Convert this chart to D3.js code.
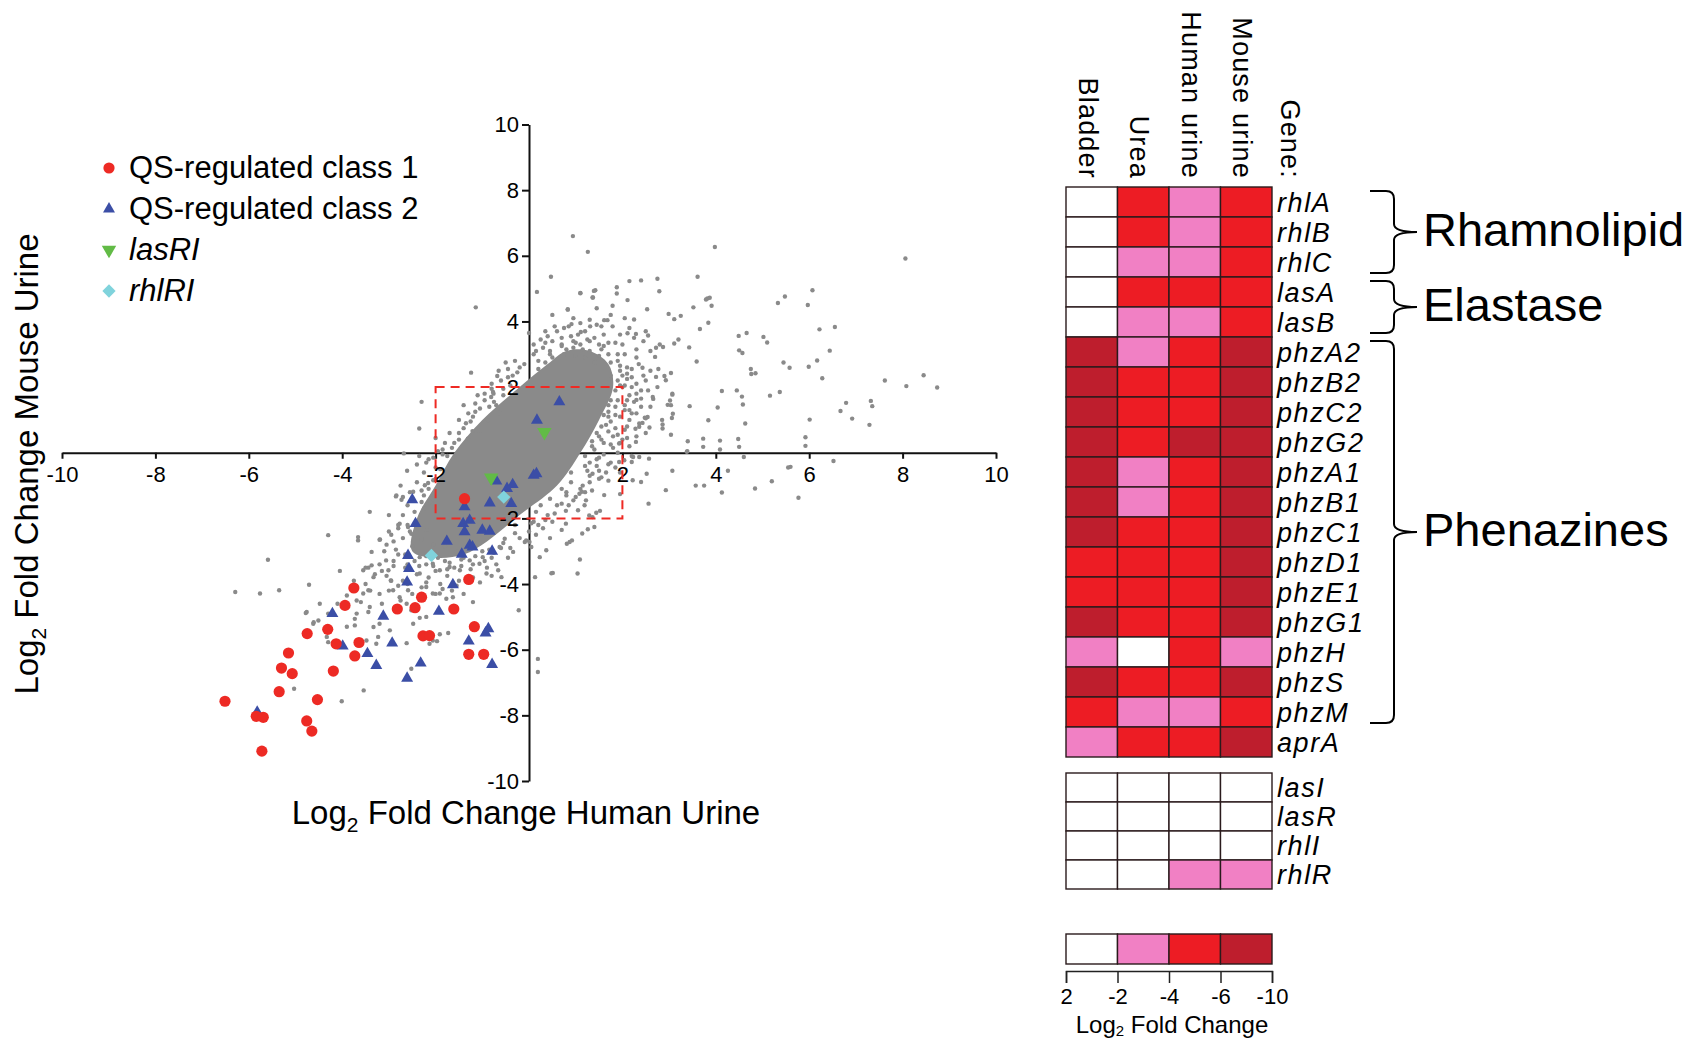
<!DOCTYPE html>
<html>
<head>
<meta charset="utf-8">
<script src="https://cdn.jsdelivr.net/npm/d3@7"></script>
<style>
  body { margin: 0; background: #fff; }
  svg { font-family: "Liberation Sans", Arial, Helvetica, sans-serif; }
</style>
</head>
<body>
<div id="chart"></div>
<script>
// ---- scatter data (log2 fold change: [human urine, mouse urine]) ----
const class1 = [
  [-1.38, -1.40], [-1.29, -3.86], [-3.75, -4.12], [-2.30, -4.40], [-3.94, -4.65],
  [-2.82, -4.76], [-2.44, -4.72], [-1.61, -4.76], [-4.31, -5.38], [-4.75, -5.51],
  [-1.17, -5.30], [-4.13, -5.82], [-3.64, -5.78], [-2.27, -5.58], [-2.13, -5.57],
  [-3.73, -6.19], [-1.29, -6.14], [-0.97, -6.14], [-5.15, -6.10], [-5.30, -6.56],
  [-5.07, -6.73], [-4.19, -6.65], [-5.35, -7.28], [-4.53, -7.52], [-6.51, -7.57],
  [-5.84, -8.03], [-5.69, -8.06], [-4.76, -8.17], [-4.65, -8.48], [-5.72, -9.09]
];
const class2 = [
  [-2.50, -1.43], [-2.43, -2.16], [-2.59, -3.13], [-2.57, -3.53], [-2.61, -3.94],
  [-1.76, -2.70], [-1.44, -3.09], [-1.27, -2.82], [-1.21, -2.87], [-0.79, -3.00],
  [-1.63, -4.02], [-1.93, -4.83], [-3.12, -4.98], [-4.21, -4.90], [-3.99, -5.89],
  [-3.46, -6.12], [-3.27, -6.48], [-2.93, -5.80], [-2.61, -6.87], [-2.32, -6.41],
  [-1.29, -5.74], [-0.93, -5.49], [-0.87, -5.36], [-0.79, -6.45], [-1.41, -2.16],
  [-1.00, -2.36], [-0.84, -2.39], [-1.38, -2.41], [-1.27, -2.06], [-5.82, -7.90],
  [0.65, 1.55], [0.17, 0.99], [0.10, -0.69], [0.16, -0.64], [-0.70, -0.86],
  [-0.47, -1.09], [-0.35, -0.97], [-0.84, -1.53], [-0.38, -1.55], [-1.38, -1.65]
];
const lasRI = [[0.33, 0.63], [-0.81, -0.76]];
const rhlRI = [[-0.54, -1.35], [-2.09, -3.13]];

// solid centre of the gene cloud, traced around its edge
const denseCore = [
  [-2.5, -3.0], [-2.0, -3.2], [-1.4, -3.1], [-0.9, -2.7], [-0.2, -1.9], [0.6, -1.0],
  [1.1, 0.0], [1.5, 1.0], [1.8, 2.0], [1.7, 2.7], [1.3, 3.1], [0.8, 3.1],
  [0.4, 2.7], [-0.2, 2.0], [-1.0, 1.0], [-1.6, 0.0], [-2.0, -1.0], [-2.4, -2.0]
];

// all other genes outside the solid centre
const otherGenes = [
  [0.94, 6.60], [1.26, 6.12], [3.98, 6.27], [8.06, 5.92], [2.15, 5.23], [2.40, 5.25],
  [2.75, 5.30], [3.61, 5.36], [1.88, 5.04], [1.42, 4.95], [1.36, 4.73], [1.10, 4.86],
  [2.79, 4.92], [6.07, 4.95], [5.48, 4.76], [5.33, 4.56], [5.97, 4.50], [3.82, 4.70],
  [3.87, 4.72], [3.91, 4.48], [3.52, 4.43], [2.53, 4.37], [2.11, 4.65], [1.79, 4.48],
  [0.83, 4.37], [2.99, 4.23], [3.11, 4.07], [3.25, 4.17], [3.66, 3.77], [3.84, 3.96],
  [6.55, 3.83], [6.22, 3.76], [4.66, 3.65], [4.49, 3.56], [5.02, 3.53], [5.10, 3.36],
  [2.55, 3.57], [2.29, 3.62], [2.11, 3.64], [3.43, 3.21], [3.11, 3.33], [3.20, 3.45],
  [2.87, 3.22], [2.72, 3.20], [4.50, 3.12], [4.57, 3.04], [6.44, 3.11], [6.17, 2.81],
  [3.59, 2.78], [5.45, 2.75], [5.58, 2.59], [5.99, 2.62], [4.75, 2.55], [4.85, 2.42],
  [4.76, 2.40], [6.28, 2.27], [7.62, 2.20], [8.45, 2.36], [8.08, 2.03], [8.74, 1.99],
  [2.70, 2.92], [2.77, 2.55], [3.04, 2.43], [2.90, 2.34], [3.07, 1.77], [3.02, 1.59],
  [2.97, 1.46], [4.13, 1.88], [4.45, 1.90], [4.56, 1.71], [4.58, 1.47], [5.16, 1.74],
  [5.37, 1.85], [2.30, 1.61], [2.66, 1.64], [4.04, 1.38], [3.44, 1.42], [3.84, 0.99],
  [4.63, 0.89], [6.79, 1.52], [6.67, 1.27], [6.92, 1.04], [7.32, 1.58], [7.35, 1.42],
  [7.29, 0.85], [6.01, 1.01], [3.06, 1.06], [2.85, 1.00], [2.86, 0.86], [2.86, 0.74],
  [3.04, 0.55], [2.58, 0.77], [2.48, 1.07], [2.28, 0.73], [3.73, 0.43], [4.09, 0.37],
  [4.48, 0.42], [5.92, 0.47], [3.39, 0.05], [3.08, 1.19], [3.40, 0.35], [2.15, 1.30],
  [2.54, 1.09], [2.36, 0.89], [2.10, 2.41], [2.25, 4.06], [3.79, 4.67],
  [-1.14, 4.43], [0.47, 5.36], [0.17, 4.90], [1.10, 4.87], [1.39, 4.93], [1.37, 4.73],
  [0.83, 4.36], [0.91, 3.92], [1.11, 3.68], [1.31, 3.85], [1.61, 4.04], [1.68, 4.04],
  [1.79, 3.85], [1.88, 4.85],
  [-2.30, 1.55], [-2.35, 0.74], [-2.68, -0.02], [-1.24, 2.44], [-0.68, 2.34],
  [-0.77, 1.85], [-0.81, 1.70], [-1.31, 0.43], [-1.21, 0.66], [-1.06, 0.67],
  [-0.88, 0.99], [-0.63, 1.21], [-0.76, 1.80],
  [-2.40, -0.36], [-2.61, -0.55], [-2.85, -1.33], [-2.73, -1.43], [-2.48, -1.19],
  [-3.41, -1.80], [-2.23, -0.99], [-2.16, -0.92], [-2.05, -0.84],
  [3.38, 0.03], [3.73, 0.18], [4.09, 0.10], [4.50, 0.18], [5.92, 0.21], [4.60, -0.13],
  [6.52, -0.25], [3.07, -0.55], [4.26, -0.55], [5.55, -0.45], [5.60, -0.43],
  [3.57, -1.00], [3.75, -1.00], [4.13, -1.21], [4.84, -1.09], [5.20, -0.87],
  [5.77, -1.37], [2.56, -1.55], [2.40, -0.89], [2.52, -0.64], [2.57, -0.18],
  [2.23, -0.13], [2.20, -0.28], [2.04, -0.23], [1.61, -1.29], [1.95, -1.26],
  [1.52, -1.77], [1.44, -1.83], [1.29, -1.91], [1.19, -1.60], [1.40, -2.26],
  [1.26, -2.33], [1.14, -2.46], [0.92, -2.67], [0.81, -2.77], [1.09, -3.25],
  [1.04, -3.68], [0.79, -1.77], [1.13, -1.19],
  [0.87, -2.72], [0.51, -3.66], [-0.06, -2.67], [2.93, -1.14], [3.07, 1.80],
  [3.04, 1.45], [2.65, 1.70], [2.72, 2.31], [2.93, 2.21], [2.43, 2.59], [2.36, 0.79],
  [2.43, 0.91], [2.29, 0.33], [1.93, 0.28], [2.22, -0.84], [1.93, -0.28], [2.36, -0.13],
  [1.36, -0.64], [1.50, -0.79], [1.08, -1.25], [1.22, -1.45], [1.36, -1.96],
  [0.79, -2.16], [0.37, -2.97], [0.23, -3.18], [-0.09, -2.72],
  [-6.29, -4.24], [-5.76, -4.29], [-5.35, -4.19], [-5.59, -3.26], [-4.71, -4.02],
  [-4.30, -2.51], [-4.05, -3.60], [-3.66, -2.57], [-3.66, -2.67], [-3.20, -2.65],
  [-3.55, -3.58], [-3.44, -3.50], [-3.37, -3.43], [-3.33, -3.79], [-3.37, -3.02],
  [-3.06, -3.28], [-3.01, -3.58], [-2.96, -3.89], [-2.91, -4.19], [-2.77, -4.40],
  [-2.62, -4.60], [-2.59, -4.19], [-3.69, -4.50], [-3.69, -4.90], [-3.55, -4.29],
  [-3.44, -4.19], [-3.41, -4.70], [-3.44, -4.85], [-3.20, -5.21], [-3.33, -5.31],
  [-3.23, -5.61], [-3.48, -5.72], [-3.27, -5.82], [-3.73, -5.06], [-3.73, -5.26],
  [-4.76, -4.85], [-4.62, -5.21], [-4.51, -5.11], [-4.33, -5.61], [-4.30, -5.77],
  [-5.03, -7.19], [-4.01, -7.57], [-3.54, -7.24], [-2.62, -5.80], [-2.52, -6.58],
  [-2.13, -5.82], [-2.06, -5.72], [-1.97, -5.74], [-1.73, -5.49], [-1.91, -5.53],
  [-2.48, -5.21], [-2.52, -4.80], [-2.34, -5.03], [-2.20, -5.00], [-2.98, -5.41],
  [-2.84, -1.30], [-2.70, -1.35], [-2.77, -2.16], [-2.59, -2.26], [-2.52, -2.47],
  [-2.20, -4.09], [-2.06, -4.29], [-1.91, -4.29], [-1.77, -4.45], [-1.63, -4.40],
  [-1.20, -4.55], [-2.34, -3.18], [-2.06, -3.38], [-1.91, -3.58], [-2.34, -3.68],
  [-1.70, -3.48], [-1.48, -3.58], [-1.27, -3.28], [-1.06, -3.38], [-0.91, -3.68],
  [-0.99, -3.18], [-0.63, -2.87], [-0.52, -2.62], [-0.34, -3.02], [-0.66, -3.58],
  [-0.59, -3.79], [-0.22, -4.80], [0.01, -2.72], [0.05, -2.87], [0.19, -6.28],
  [0.19, -6.68], [0.13, -3.79], [0.48, -3.67], [-3.19, -2.64], [-4.48, -4.60],
  [-4.78, -4.88], [-4.61, -5.16],
  [-1.75, -0.10], [-1.90, -0.50], [-2.00, -0.80], [-2.15, -1.10], [-2.30, -1.50],
  [-2.45, -1.80], [-2.60, -2.20], [-2.20, -0.30], [-1.85, 0.10], [-2.05, -0.15],
  [-1.60, 0.30], [-1.50, 0.60], [-1.35, 0.90], [-1.20, 1.10], [-1.05, 1.35],
  [-0.95, 1.60], [-0.80, 1.95], [-0.60, 2.20], [-0.45, 2.55], [-0.30, 2.80],
  [-0.55, 1.75], [-0.40, 2.05], [-0.70, 1.45],
  [0.10, 3.00], [0.30, 3.20], [0.50, 3.40], [0.70, 3.30], [0.90, 3.55], [1.10, 3.30],
  [1.30, 3.10], [1.50, 3.30], [1.70, 3.00], [1.90, 2.80], [2.10, 2.60], [2.20, 2.30],
  [0.60, 3.70], [1.20, 3.70], [1.60, 3.60], [0.40, 3.55], [0.85, 3.85], [1.45, 3.90],
  [2.00, 3.30], [2.30, 2.90], [0.95, 3.20], [1.25, 3.45], [1.55, 3.15],
  [1.85, 3.35], [2.05, 3.00], [2.35, 2.70], [2.50, 2.20], [2.60, 2.50], [2.20, 2.00],
  [2.40, 1.90], [1.95, 2.50], [1.75, 2.75], [0.35, 3.35], [0.15, 3.10], [-0.10, 2.70],
  [-0.25, 2.45],
  [2.00, 2.00], [2.10, 1.60], [2.20, 1.20], [2.10, 0.80], [2.00, 0.40], [1.90, 0.00],
  [1.75, -0.30], [1.50, -0.55], [2.30, 1.80], [2.40, 1.40], [2.50, 0.60], [2.20, -0.10],
  [1.95, -0.60], [1.70, -0.85], [1.30, -0.90], [1.10, -1.10], [0.80, -1.30], [0.60, -1.60],
  [0.40, -1.90], [0.20, -2.20], [0.00, -2.40], [-0.20, -2.60], [-0.40, -2.90],
  [1.80, 0.50], [1.70, 1.10], [1.85, 1.40], [1.60, 0.30], [1.45, -0.20], [1.20, -0.40],
  [-0.60, -2.90], [-0.80, -3.20], [-1.00, -3.00], [-1.20, -3.40], [-1.40, -3.20],
  [-1.60, -3.50], [-1.80, -3.30], [-2.00, -3.60], [-2.20, -3.40], [-2.40, -3.70],
  [-2.60, -3.40], [-2.80, -3.10], [-2.90, -2.70], [-3.00, -2.40], [-2.80, -2.30],
  [-3.10, -3.00], [-3.20, -3.40], [-2.70, -3.90], [-2.30, -4.10], [-1.90, -4.00],
  [-1.50, -3.90], [-1.20, -3.80], [-0.90, -3.50], [-0.70, -3.40], [-3.30, -3.70],
  [-3.00, -4.20], [-3.50, -4.00], [-2.00, -4.30], [-1.40, -4.30],
  [-0.30, -2.20], [0.15, -1.80], [0.35, -2.05], [0.55, -1.85], [0.05, -2.15],
  [0.25, -1.60], [0.45, -1.40], [0.70, -1.55], [0.95, -1.45], [0.70, -1.10],
  [0.90, -0.90], [1.15, -1.00], [1.35, -1.15], [0.90, -0.60], [1.25, -0.55],
  [1.45, -0.40], [1.65, -0.60], [1.20, -0.10], [1.40, 0.10], [1.60, -0.05],
  [1.80, 0.15], [1.35, 0.35], [1.50, 0.50], [1.70, 0.65], [1.90, 0.55],
  [2.10, 0.45], [1.55, 0.80], [1.60, 1.15], [1.75, 0.95], [1.95, 1.10],
  [2.15, 1.00], [1.70, 1.45], [1.90, 1.60], [2.05, 1.45], [2.25, 1.55],
  [1.85, 1.90], [1.90, 2.20], [2.05, 2.05], [2.00, 2.35], [1.75, 2.35],
  [-2.20, -2.35], [-2.40, -2.10], [-2.55, -2.40], [-2.25, -1.70], [-2.10, -1.50],
  [-2.25, -1.30], [-2.00, -0.45], [-1.85, -0.05], [-1.65, 0.15], [-1.50, 0.40],
  [-1.40, 0.75], [-1.15, 1.25], [-0.85, 1.40], [-0.75, 1.55], [-0.55, 1.95],
  [-0.35, 2.35], [0.20, 2.55], [0.35, 2.75], [0.50, 2.90], [0.75, 3.00],
  [1.00, 2.95], [1.20, 2.90], [1.40, 2.75], [1.50, 2.95], [1.15, 3.15],
  [0.80, 3.15], [0.45, 3.10], [0.95, 3.40], [1.40, 3.50], [0.70, 3.50],
  [1.05, 3.60], [1.70, 3.35], [0.25, 3.45], [0.55, 3.85], [1.30, 4.05],
  [0.95, 4.10], [1.75, 4.20], [2.15, 3.80], [2.45, 3.40], [2.60, 3.10],
  [2.30, 3.15], [-1.10, -2.75], [-1.30, -2.95], [-1.55, -3.00], [-1.80, -2.85],
  [-2.05, -2.80], [-2.30, -2.65], [-2.50, -2.85], [-2.70, -2.60], [-1.45, -3.25],
  [-1.70, -3.35], [-1.95, -3.20], [-2.20, -3.15], [-2.45, -3.30], [-2.65, -3.10],
  [-1.25, -3.55], [-1.75, -3.75], [-2.15, -3.80], [-2.55, -3.55], [-0.85, -2.95],
  [-0.95, -3.30], [-2.90, -3.45], [-3.05, -3.75], [-2.80, -4.05], [-2.50, -4.30],
  [-1.65, -4.20], [-3.20, -4.30], [-3.50, -3.50], [-3.75, -3.90], [-3.90, -4.35],
  [-4.10, -4.60], [-4.30, -4.90], [-3.90, -5.30],
  // outer ring of the cloud
  [0.10, -2.10], [0.30, -2.30], [0.50, -2.10], [0.70, -2.35], [0.15, -2.50],
  [0.45, -2.60], [0.80, -1.20], [1.00, -1.35], [1.20, -1.20], [0.85, -1.60],
  [1.05, -1.75], [1.30, -0.30], [1.50, -0.15], [1.70, -0.35], [1.30, -0.70],
  [1.55, -0.75], [1.85, -0.45], [1.35, 0.20], [1.55, 0.40], [1.75, 0.25],
  [1.95, 0.30], [2.15, 0.20], [1.45, 0.60], [1.65, 0.85], [1.85, 0.75],
  [2.05, 0.70], [2.30, 0.50], [1.70, 1.25], [1.85, 1.15], [2.05, 1.30],
  [2.30, 1.20], [2.50, 1.05], [1.75, 1.60], [2.15, 1.75], [2.40, 1.65],
  [2.60, 1.40], [1.95, 2.05], [2.10, 2.25], [2.30, 2.10], [2.55, 1.90],
  [1.95, 2.65], [2.20, 2.55], [2.45, 2.35], [2.75, 2.00],
  [1.90, 3.00], [1.60, 3.25], [1.30, 3.40], [1.00, 3.35], [0.70, 3.25],
  [0.45, 3.00], [0.20, 2.80], [0.10, 3.30], [0.35, 3.70], [0.75, 3.80],
  [1.10, 3.95], [1.55, 3.85], [1.95, 3.60], [2.25, 3.50], [2.50, 3.70],
  [2.80, 3.30], [0.00, 3.65], [0.50, 4.20], [1.45, 4.40], [2.05, 4.10],
  [-0.45, 2.30], [-0.65, 2.50], [-0.50, 2.75], [-0.20, 2.60], [-0.80, 2.10],
  [-0.95, 1.80], [-1.15, 1.50], [-1.30, 1.20], [-1.50, 1.00], [-1.25, 0.95],
  [-1.70, 0.60], [-1.80, 0.30], [-1.95, 0.05], [-2.15, -0.20], [-2.25, -0.60],
  [-2.40, -0.90], [-2.55, -1.20], [-2.30, -1.15], [-2.60, -1.60], [-2.70, -1.90],
  [-2.80, -2.20], [-2.95, -2.50], [-3.05, -2.80], [-2.85, -2.95], [-1.10, 1.75],
  [-1.40, 1.45], [-2.00, 0.45], [-2.35, -0.10], [-2.75, -1.00], [-3.00, -1.90],
  [-2.90, -3.30], [-2.65, -3.50], [-2.35, -3.45], [-2.05, -3.45], [-1.75, -3.55],
  [-1.45, -3.45], [-1.15, -3.15], [-0.75, -3.05], [-0.55, -2.75], [-0.30, -2.45],
  [-0.45, -3.20], [-3.15, -3.60], [-2.95, -3.90], [-2.60, -4.00], [-2.20, -3.95],
  [-1.85, -4.15], [-1.55, -4.05], [-1.05, -3.95], [-0.80, -3.75], [-3.40, -4.20],
  [-3.60, -4.55], [-3.15, -4.60], [-2.75, -4.50], [-2.35, -4.40]
];

// ---- heatmap data (0 = >-2, 1 = -2..-4, 2 = -4..-6, 3 = -6..-10) ----
const conditions = ["Bladder", "Urea", "Human urine", "Mouse urine"];
const genes = ["rhlA", "rhlB", "rhlC", "lasA", "lasB", "phzA2", "phzB2", "phzC2", "phzG2",
  "phzA1", "phzB1", "phzC1", "phzD1", "phzE1", "phzG1", "phzH", "phzS", "phzM", "aprA"];
const geneLevels = [
  [0, 2, 1, 2], [0, 2, 1, 2], [0, 1, 1, 2], [0, 2, 2, 2], [0, 1, 1, 2],
  [3, 1, 2, 3], [3, 2, 2, 3], [3, 2, 2, 3], [3, 2, 3, 3], [3, 1, 2, 3],
  [3, 1, 2, 3], [3, 2, 2, 3], [2, 2, 2, 3], [2, 2, 2, 3], [3, 2, 2, 3],
  [1, 0, 2, 1], [3, 2, 2, 3], [2, 1, 1, 2], [1, 2, 2, 3]
];
const qsGenes = ["lasI", "lasR", "rhlI", "rhlR"];
const qsLevels = [[0, 0, 0, 0], [0, 0, 0, 0], [0, 0, 0, 0], [0, 0, 1, 1]];
const levelColors = ["#ffffff", "#f180c4", "#ed1c24", "#be1e2d"];
const levelTicks = ["2", "-2", "-4", "-6", "-10"];
const groupNames = ["Rhamnolipid", "Elastase", "Phenazines"];
const groupFirst = ["rhlA", "lasA", "phzA2"];
const groupLast = ["rhlC", "lasB", "phzM"];

const FONT = "Liberation Sans, Arial, Helvetica, sans-serif";

const svg = d3.select("#chart").append("svg")
  .attr("width", 1702)
  .attr("height", 1041);

// ================= scatter =================
const x = d3.scaleLinear().domain([-10, 10]).range([62, 996]);
const y = d3.scaleLinear().domain([-10, 10]).range([781, 124.5]);
const tickVals = [-10, -8, -6, -4, -2, 2, 4, 6, 8, 10];

const xAxis = d3.axisBottom(x).tickValues(tickVals).tickSize(6).tickSizeOuter(0)
  .tickPadding(8).tickFormat(d => d);
const yAxis = d3.axisLeft(y).tickValues(tickVals).tickSize(7).tickSizeOuter(0)
  .tickPadding(3).tickFormat(d => d);

// axis lines first, so the cloud sits on top of them
const axisLines = svg.append("g");
axisLines.append("g").attr("transform", `translate(0,${y(0)})`).call(xAxis)
  .call(g => g.selectAll("text").remove());
axisLines.append("g").attr("transform", `translate(${x(0)},0)`).call(yAxis)
  .call(g => g.selectAll("text").remove());
axisLines.selectAll("path, line").attr("stroke", "#111").attr("stroke-width", 2);

const gray = "#8a8a8a";
svg.append("path")
  .datum(denseCore)
  .attr("d", d3.line().x(d => x(d[0])).y(d => y(d[1])).curve(d3.curveCatmullRomClosed))
  .attr("fill", gray);

svg.append("g").selectAll("circle")
  .data(otherGenes)
  .join("circle")
  .attr("cx", d => x(d[0]))
  .attr("cy", d => y(d[1]))
  .attr("r", 2.2)
  .attr("fill", gray);

// tick labels above the cloud
const axisText = svg.append("g");
axisText.append("g").attr("transform", `translate(0,${y(0)})`).call(xAxis)
  .attr("font-size", 22).attr("font-family", FONT)
  .call(g => g.select(".domain").remove())
  .call(g => g.selectAll("line").remove());
axisText.append("g").attr("transform", `translate(${x(0)},0)`).call(yAxis)
  .attr("font-size", 22).attr("font-family", FONT)
  .call(g => g.select(".domain").remove())
  .call(g => g.selectAll("line").remove());
axisText.selectAll("text").attr("fill", "#000");

// zoom box (-2..2)
svg.append("rect")
  .attr("x", x(-2))
  .attr("y", y(2))
  .attr("width", x(2) - x(-2))
  .attr("height", y(-2) - y(2))
  .attr("fill", "none")
  .attr("stroke", "#ee2a24")
  .attr("stroke-width", 2)
  .attr("stroke-dasharray", "9,6");

const red = "#ed2a24", blue = "#3b4ea6", green = "#62bb46", cyan = "#80d3dc";
const tri = d3.symbol().type(d3.symbolTriangle).size(62);
const triBig = d3.symbol().type(d3.symbolTriangle).size(90);
const diamond = d3.symbol().type(d3.symbolSquare).size(88);

svg.append("g").selectAll("path")
  .data(class2)
  .join("path")
  .attr("d", tri)
  .attr("transform", d => `translate(${x(d[0])},${y(d[1])})`)
  .attr("fill", blue);

svg.append("g").selectAll("circle")
  .data(class1)
  .join("circle")
  .attr("cx", d => x(d[0]))
  .attr("cy", d => y(d[1]))
  .attr("r", 5.6)
  .attr("fill", red);

svg.append("g").selectAll("path")
  .data(lasRI)
  .join("path")
  .attr("d", triBig)
  .attr("transform", d => `translate(${x(d[0])},${y(d[1])}) rotate(180)`)
  .attr("fill", green);

svg.append("g").selectAll("path")
  .data(rhlRI)
  .join("path")
  .attr("d", diamond)
  .attr("transform", d => `translate(${x(d[0])},${y(d[1])}) rotate(45)`)
  .attr("fill", cyan);

// axis titles
const xTitle = svg.append("text")
  .attr("x", 526)
  .attr("y", 824)
  .attr("text-anchor", "middle")
  .style("font-size", "33px");
xTitle.append("tspan").text("Log");
xTitle.append("tspan").attr("dy", 8).style("font-size", "21px").text("2");
xTitle.append("tspan").attr("dy", -8).text(" Fold Change Human Urine");

const yTitle = svg.append("text")
  .attr("transform", "translate(38,464) rotate(-90)")
  .attr("text-anchor", "middle")
  .style("font-size", "33px");
yTitle.append("tspan").text("Log");
yTitle.append("tspan").attr("dy", 8).style("font-size", "21px").text("2");
yTitle.append("tspan").attr("dy", -8).text(" Fold Change Mouse Urine");

// legend
const legendItems = [
  { label: "QS-regulated class 1", italic: false },
  { label: "QS-regulated class 2", italic: false },
  { label: "lasRI", italic: true },
  { label: "rhlRI", italic: true }
];
const legend = svg.append("g").attr("id", "legend");
const ly = i => 168 + 41 * i;
legend.append("circle").attr("cx", 109).attr("cy", ly(0)).attr("r", 5.6).attr("fill", red);
legend.append("path").attr("d", tri).attr("transform", `translate(109,${ly(1)})`).attr("fill", blue);
legend.append("path").attr("d", triBig).attr("transform", `translate(109,${ly(2)}) rotate(180)`).attr("fill", green);
legend.append("path").attr("d", diamond).attr("transform", `translate(109,${ly(3)}) rotate(45)`).attr("fill", cyan);
legend.selectAll(".legendLabel")
  .data(legendItems)
  .join("text")
  .attr("class", "legendLabel")
  .attr("x", 129)
  .attr("y", (d, i) => ly(i) + 10)
  .style("font-size", "31px")
  .style("font-style", d => (d.italic ? "italic" : "normal"))
  .text(d => d.label);

// ================= heatmap =================
const col = d3.scaleBand().domain(conditions).range([1066, 1272]);
const row = d3.scaleBand().domain(genes).range([187, 757]);
const row2 = d3.scaleBand().domain(qsGenes).range([773, 889]);
const color = d3.scaleOrdinal().domain([0, 1, 2, 3]).range(levelColors);

function drawBlock(names, levels, rowScale) {
  const g = svg.append("g");
  names.forEach((gene, i) => {
    g.selectAll(null)
      .data(levels[i])
      .join("rect")
      .attr("x", (d, j) => col(conditions[j]))
      .attr("y", rowScale(gene))
      .attr("width", col.bandwidth())
      .attr("height", rowScale.bandwidth())
      .attr("fill", d => color(d))
      .attr("stroke", "#2a1a1c")
      .attr("stroke-width", 1.4);
  });
  g.selectAll(".geneLabel")
    .data(names)
    .join("text")
    .attr("class", "geneLabel")
    .attr("x", 1277)
    .attr("y", d => rowScale(d) + rowScale.bandwidth() - 5)
    .style("font-size", "27px")
    .style("font-style", "italic")
    .style("letter-spacing", "1.6px")
    .text(d => d);
}
drawBlock(genes, geneLevels, row);
drawBlock(qsGenes, qsLevels, row2);

// column headers, rotated
svg.append("g").selectAll("text")
  .data(conditions.concat(["Gene:"]))
  .join("text")
  .attr("transform", (d, i) => {
    const cx = i < conditions.length ? col(d) + col.bandwidth() / 2 - 4 : 1290;
    return `translate(${cx},179) rotate(90)`;
  })
  .attr("text-anchor", "end")
  .attr("dominant-baseline", "central")
  .style("font-size", "27px")
  .style("letter-spacing", "1.2px")
  .text(d => d);

// braces + group names
function bracePath(top, bot) {
  const x0 = 1370, x1 = 1394, tip = 1417, r = 8;
  const mid = (top + bot) / 2;
  return `M${x0},${top} H${x1 - r} Q${x1},${top} ${x1},${top + r} V${mid - r}` +
    ` Q${x1},${mid} ${tip},${mid} Q${x1},${mid} ${x1},${mid + r} V${bot - r}` +
    ` Q${x1},${bot} ${x1 - r},${bot} H${x0}`;
}
groupNames.forEach((name, i) => {
  const top = row(groupFirst[i]) + 4;
  const bot = row(groupLast[i]) + row.bandwidth() - 4;
  svg.append("path")
    .attr("d", bracePath(top, bot))
    .attr("fill", "none")
    .attr("stroke", "#000")
    .attr("stroke-width", 2);
  svg.append("text")
    .attr("x", 1423)
    .attr("y", (top + bot) / 2 + 14)
    .style("font-size", "47px")
    .text(name);
});

// colour key
const keyTop = 934, keyH = 30;
svg.append("g").selectAll("rect")
  .data(levelColors)
  .join("rect")
  .attr("x", (d, i) => col(conditions[i]))
  .attr("y", keyTop)
  .attr("width", col.bandwidth())
  .attr("height", keyH)
  .attr("fill", d => d)
  .attr("stroke", "#2a1a1c")
  .attr("stroke-width", 1.4);

const keyScale = d3.scalePoint().domain(levelTicks).range([1066, 1272]);
svg.append("g")
  .attr("transform", "translate(0,971)")
  .call(d3.axisBottom(keyScale).tickSize(12).tickSizeOuter(12).tickPadding(5))
  .attr("font-size", 22).attr("font-family", FONT)
  .call(g => g.selectAll("path, line").attr("stroke", "#222").attr("stroke-width", 1.5))
  .call(g => g.selectAll("text").attr("fill", "#000"));

const keyTitle = svg.append("text")
  .attr("x", 1172)
  .attr("y", 1033)
  .attr("text-anchor", "middle")
  .style("font-size", "24px");
keyTitle.append("tspan").text("Log");
keyTitle.append("tspan").attr("dy", 3).style("font-size", "15px").text("2");
keyTitle.append("tspan").attr("dy", -3).text(" Fold Change");
</script>
</body>
</html>
